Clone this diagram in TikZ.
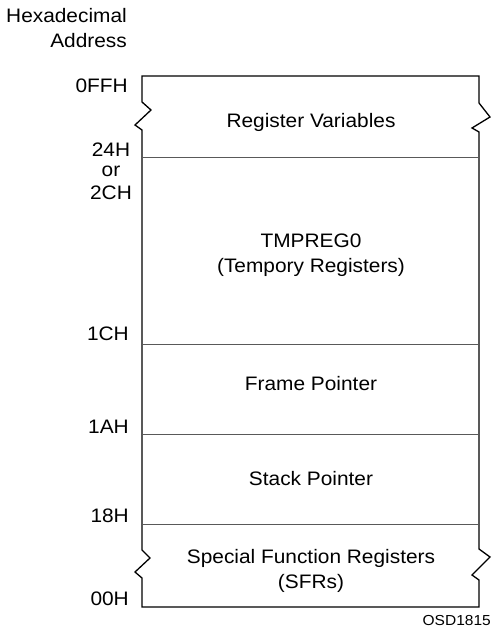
\documentclass[tikz,border=0pt]{standalone}
\usepackage{fontspec}
\setmainfont{Liberation Sans}[FakeStretch=1.07]
\begin{document}
\begin{tikzpicture}[x=1pt,y=-1pt,
  outline/.style={draw=black,line width=1.3pt,line join=miter},
  divider/.style={draw=black!65,line width=1pt},
  lbl/.style={inner sep=0pt,font=\fontsize{19.5}{22}\selectfont},
  addr/.style={lbl,anchor=base east},
  addrc/.style={lbl,anchor=base},
  field/.style={lbl,anchor=base},
  tag/.style={inner sep=0pt,anchor=base east,font=\fontsize{14.5}{16}\selectfont}]
\useasboundingbox (0,0) rectangle (492,636);

% memory column with broken-off ends
\draw[outline] (142,102) -- (142,76) -- (479,76) -- (479,103) -- (490,117) -- (472,128) -- (479,132)
  -- (479,549) -- (490,557) -- (472,575) -- (479,580) -- (479,607) -- (142,607)
  -- (142,578) -- (135,572) -- (150,558) -- (142,550) -- (142,130) -- (135,125) -- (151,110) -- cycle;

% region boundaries
\coordinate (l1) at (142,158); \coordinate (r1) at (479,158);
\coordinate (l2) at (142,344); \coordinate (r2) at (479,344);
\coordinate (l3) at (142,434); \coordinate (r3) at (479,434);
\coordinate (l4) at (142,524); \coordinate (r4) at (479,524);
\draw[divider] (l1) -- (r1);
\draw[divider] (l2) -- (r2);
\draw[divider] (l3) -- (r3);
\draw[divider] (l4) -- (r4);

% column heading
\node[addr] (hex) at (127,23) {Hexadecimal};
\node[addr] (adr) at (127,48) {Address};

% addresses
\node[addr] (a0ff) at (128,93) {0FFH};
\node[addrc] (a24) at (111,157) {24H};
\node[addrc] (aor) at (111,177) {or};
\node[addrc] (a2c) at (111,200) {2CH};
\node[addr] (a1c) at (129,340) {1CH};
\node[addr] (a1a) at (129,433) {1AH};
\node[addr] (a18) at (129,522) {18H};
\node[addr] (a00) at (129,605) {00H};

% region contents
\node[field] (rv) at (311,128) {Register Variables};
\node[field] (tmp) at (311,247) {TMPREG0};
\node[field] (tmpd) at (311,272) {(Tempory Registers)};
\node[field] (fp) at (311,390) {Frame Pointer};
\node[field] (sp) at (311,485) {Stack Pointer};
\node[field] (sfr) at (311,563) {Special Function Registers};
\node[field] (sfrd) at (311,588) {(SFRs)};

\node[tag] (osd) at (491,625) {OSD1815};
\end{tikzpicture}
\end{document}
